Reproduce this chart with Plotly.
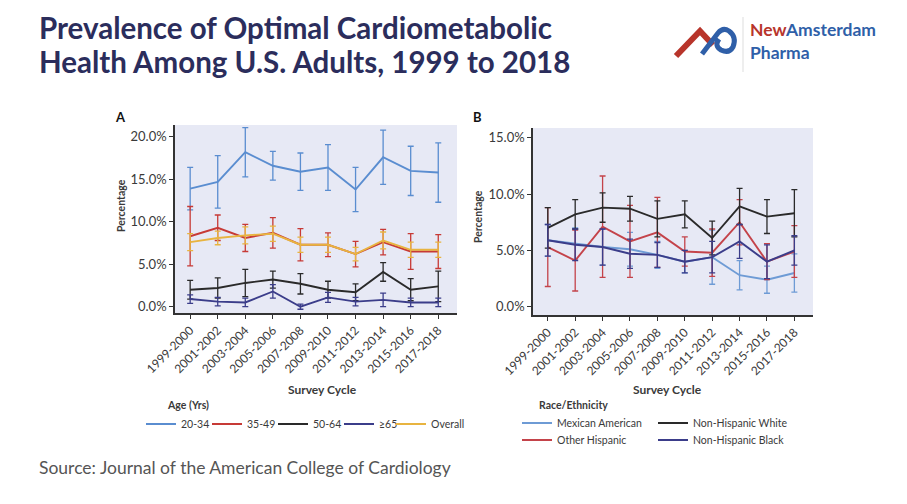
import plotly.graph_objects as go

cycles = ["1999-2000", "2001-2002", "2003-2004", "2005-2006", "2007-2008",
          "2009-2010", "2011-2012", "2013-2014", "2015-2016", "2017-2018"]

# Panel A: age groups (percent)
age_2034 = [13.9, 14.7, 18.2, 16.6, 15.9, 16.4, 13.8, 17.6, 16.0, 15.8]
age_2034_err = [2.5, 3.1, 2.9, 1.7, 2.2, 2.7, 2.6, 3.2, 2.9, 3.5]
age_3549 = [8.3, 9.3, 8.1, 8.7, 7.3, 7.3, 6.2, 7.6, 6.5, 6.5]
age_3549_err = [3.5, 1.5, 1.6, 1.8, 1.9, 1.4, 1.5, 1.5, 2.1, 2.0]
age_5064 = [2.0, 2.2, 2.8, 3.2, 2.7, 2.0, 1.7, 4.1, 2.0, 2.4]
age_5064_err = [1.1, 1.2, 1.6, 1.0, 1.2, 1.0, 1.0, 1.1, 1.3, 1.8]
age_65 = [0.9, 0.6, 0.5, 1.8, 0.0, 1.1, 0.6, 0.8, 0.5, 0.5]
age_65_err = [0.5, 0.5, 0.5, 0.8, 0.3, 0.6, 0.5, 0.8, 0.5, 0.5]
age_overall = [7.6, 8.1, 8.4, 8.6, 7.3, 7.3, 6.2, 7.8, 6.7, 6.7]
age_overall_err = [1.0, 0.8, 1.0, 0.9, 0.9, 0.9, 0.8, 1.0, 0.9, 0.9]

# Panel B: race/ethnicity (percent)
mex_am = [5.9, 5.6, 5.3, 5.1, 4.6, 4.0, 4.4, 2.8, 2.4, 3.0]
mex_am_err = [1.4, 1.4, 1.6, 1.5, 1.2, 1.0, 2.4, 1.3, 1.2, 1.7]
oth_hisp = [5.3, 4.1, 7.1, 5.8, 6.6, 4.9, 4.8, 7.5, 4.0, 4.9]
oth_hisp_err = [3.5, 2.7, 4.5, 3.2, 3.1, 1.3, 2.1, 2.0, 1.6, 2.3]
nh_white = [7.0, 8.2, 8.8, 8.7, 7.8, 8.2, 6.1, 8.9, 8.0, 8.3]
nh_white_err = [1.8, 1.3, 1.3, 1.1, 1.6, 1.2, 1.5, 1.6, 1.5, 2.1]
nh_black = [5.9, 5.5, 5.3, 4.7, 4.6, 4.0, 4.4, 5.8, 4.0, 5.0]
nh_black_err = [1.4, 1.4, 1.6, 1.3, 1.1, 1.0, 1.4, 1.5, 1.5, 1.3]

yticks_a = [0, 5, 10, 15, 20]
yticks_b = [0, 5, 10, 15]
yticklabels_a = ["0.0%", "5.0%", "10.0%", "15.0%", "20.0%"]
yticklabels_b = ["0.0%", "5.0%", "10.0%", "15.0%"]

W, H = 907, 504
OFF = 8  # page body margin
FONT = "Lato"
TXT = "#3a3a3a"


def px(x):
    return (x - OFF) / W


def py(y):
    return 1 - (y - OFF) / H


fig = go.Figure()


def add(y, err, name, color, xa, ya, legend):
    fig.add_trace(go.Scatter(
        x=cycles, y=y, name=name, mode="lines",
        line=dict(color=color, width=1.9),
        error_y=dict(type="data", array=err, visible=True, color=color,
                     thickness=1.3, width=3),
        xaxis=xa, yaxis=ya, legend=legend,
        hoverinfo="skip"))


add(age_2034, age_2034_err, "20-34", "#5a8dd0", "x", "y", "legend")
add(age_3549, age_3549_err, "35-49", "#c73a36", "x", "y", "legend2")
add(age_5064, age_5064_err, "50-64", "#2a2a2a", "x", "y", "legend3")
add(age_65, age_65_err, "≥65", "#3b3d8a", "x", "y", "legend4")
add(age_overall, age_overall_err, "Overall", "#e8b440", "x", "y", "legend5")

add(mex_am, mex_am_err, "Mexican American", "#6e9bd5", "x2", "y2", "legend6")
add(oth_hisp, oth_hisp_err, "Other Hispanic", "#c4434a", "x2", "y2", "legend7")
add(nh_white, nh_white_err, "Non-Hispanic White", "#2a2a2a", "x2", "y2", "legend8")
add(nh_black, nh_black_err, "Non-Hispanic Black", "#3b3d8a", "x2", "y2", "legend9")

axis_common = dict(showline=True, linecolor="#333333", linewidth=1.6,
                   ticks="outside", ticklen=4, tickwidth=1.4, tickcolor="#333333",
                   showgrid=False, zeroline=False)

xtickfont = dict(family=FONT, size=12, color=TXT)
ytickfont = dict(family=FONT, size=13, color=TXT)

legend_pos = [
    ("legend", 181, 424), ("legend2", 247, 424), ("legend3", 313, 424),
    ("legend4", 379, 424), ("legend5", 431, 424),
    ("legend6", 557, 423), ("legend7", 557, 440),
    ("legend8", 693, 423), ("legend9", 693, 440),
]
legends = {}
for lid, tx, ty in legend_pos:
    legends[lid] = dict(x=px(tx - 40), y=py(ty), xanchor="left", yanchor="middle",
                        orientation="v", font=dict(family=FONT, size=10.5, color=TXT),
                        bgcolor="rgba(0,0,0,0)", borderwidth=0, itemwidth=30)

fig.update_layout(
    width=W, height=H,
    margin=dict(l=0, r=0, t=0, b=0, autoexpand=False),
    paper_bgcolor="white",
    plot_bgcolor="#e7e9f5",
    font=dict(family=FONT, color=TXT),
    showlegend=True,
    xaxis=dict(domain=[px(175), px(457)], anchor="y", range=[-0.55, 9.68],
               tickangle=-45, tickfont=xtickfont, **axis_common),
    yaxis=dict(domain=[py(313), py(125)], anchor="x", range=[-0.74, 21.4],
               tickvals=yticks_a, ticktext=yticklabels_a, tickfont=ytickfont,
               **axis_common),
    xaxis2=dict(domain=[px(533), px(813)], anchor="y2", range=[-0.54, 9.68],
                tickangle=-45, tickfont=xtickfont, **axis_common),
    yaxis2=dict(domain=[py(315), py(128)], anchor="x2", range=[-0.73, 15.86],
                tickvals=yticks_b, ticktext=yticklabels_b, tickfont=ytickfont,
                **axis_common),
    **legends,
)

annotations = [
    dict(text="<b>Prevalence of Optimal Cardiometabolic</b>", x=px(37), y=py(28),
         xanchor="left", yanchor="middle", font=dict(family=FONT, size=29.5, color="#2b2d5c")),
    dict(text="<b>Health Among U.S. Adults, 1999 to 2018</b>", x=px(37), y=py(62),
         xanchor="left", yanchor="middle", font=dict(family=FONT, size=29.5, color="#2b2d5c")),
    dict(text="<b>A</b>", x=px(113), y=py(117), xanchor="left", yanchor="middle",
         font=dict(family=FONT, size=13, color="#111111")),
    dict(text="<b>B</b>", x=px(471), y=py(117), xanchor="left", yanchor="middle",
         font=dict(family=FONT, size=13, color="#111111")),
    dict(text="<b>Percentage</b>", x=px(121), y=py(206), textangle=-90,
         xanchor="center", yanchor="middle", font=dict(family=FONT, size=10.5, color=TXT)),
    dict(text="<b>Percentage</b>", x=px(478), y=py(216), textangle=-90,
         xanchor="center", yanchor="middle", font=dict(family=FONT, size=10.5, color=TXT)),
    dict(text="<b>Survey Cycle</b>", x=px(322), y=py(389), xanchor="center", yanchor="middle",
         font=dict(family=FONT, size=12, color=TXT)),
    dict(text="<b>Survey Cycle</b>", x=px(667), y=py(389), xanchor="center", yanchor="middle",
         font=dict(family=FONT, size=12, color=TXT)),
    dict(text="<b>Age (Yrs)</b>", x=px(165), y=py(405), xanchor="left", yanchor="middle",
         font=dict(family=FONT, size=10.5, color=TXT)),
    dict(text="<b>Race/Ethnicity</b>", x=px(537), y=py(405), xanchor="left", yanchor="middle",
         font=dict(family=FONT, size=10.5, color=TXT)),
    dict(text="<b><span style='color:#b8352b'>New</span>Amsterdam</b>", x=px(748), y=py(30),
         xanchor="left", yanchor="middle", font=dict(family=FONT, size=17.5, color="#2f5fa8")),
    dict(text="<b>Pharma</b>", x=px(748), y=py(52), xanchor="left", yanchor="middle",
         font=dict(family=FONT, size=17.5, color="#2f5fa8")),
    dict(text="Source: Journal of the American College of Cardiology", x=px(37), y=py(467),
         xanchor="left", yanchor="middle", font=dict(family=FONT, size=17.5, color="#555555")),
]
for a in annotations:
    a.update(xref="paper", yref="paper", showarrow=False)
fig.update_layout(annotations=annotations)

# logo shapes (decorative)
fig.add_shape(type="path", xref="paper", yref="paper",
              path=f"M {px(676)} {py(56)} L {px(700)} {py(31)} L {px(713)} {py(45)}",
              line=dict(color="#b8352b", width=6))
fig.add_shape(type="path", xref="paper", yref="paper",
              path=(f"M {px(702)} {py(54)} L {px(718)} {py(33)} "
                    f"Q {px(723)} {py(27)} {px(729)} {py(31)} "
                    f"Q {px(737)} {py(37)} {px(733)} {py(47)} "
                    f"Q {px(729)} {py(54)} {px(721)} {py(50)} "
                    f"Q {px(714)} {py(46)} {px(719)} {py(39)}"),
              line=dict(color="#2f5fa8", width=5))
fig.add_shape(type="line", xref="paper", yref="paper",
              x0=px(743), x1=px(743), y0=py(17), y1=py(72),
              line=dict(color="#dddddd", width=1))

fig.write_html("out.html")
